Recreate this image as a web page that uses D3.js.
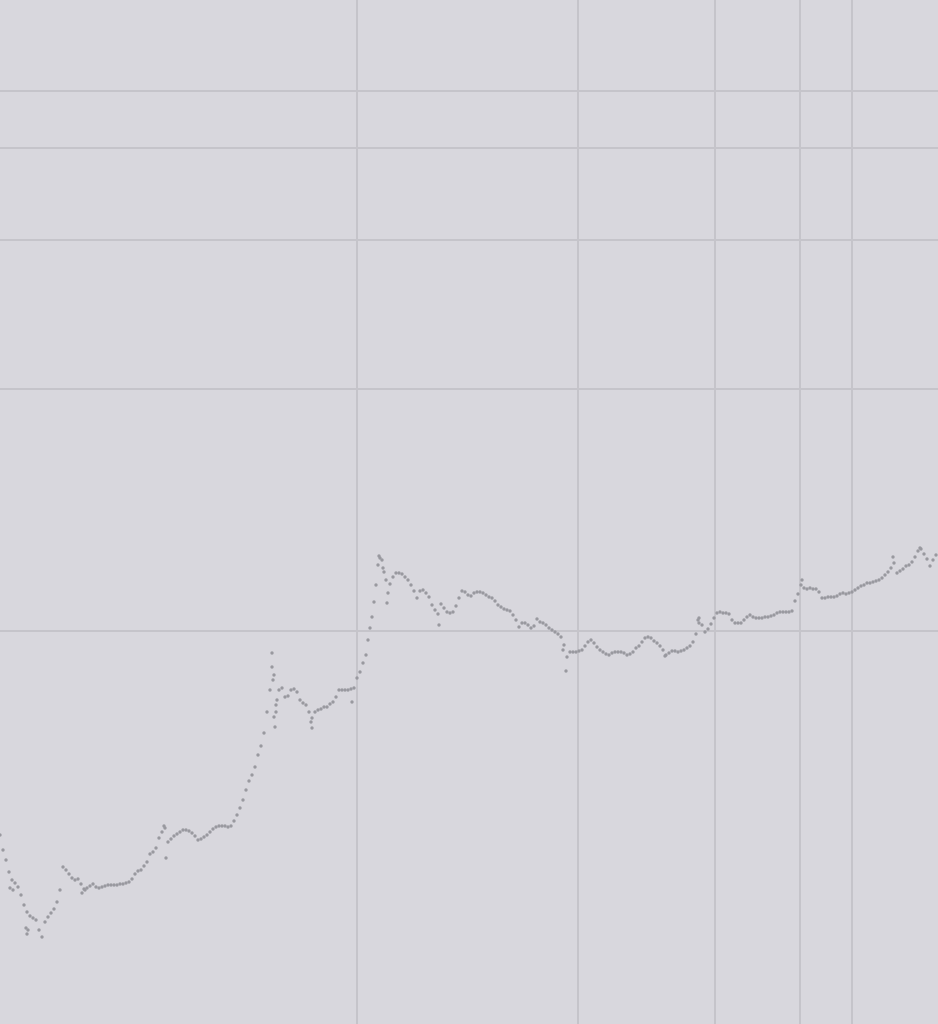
<!DOCTYPE html>
<html><head><meta charset="utf-8">
<script src="https://cdn.jsdelivr.net/npm/d3@7"></script>
<style>html,body{margin:0;padding:0;background:#d8d7dd;overflow:hidden}</style>
</head><body>
<div id="chart"></div>
<script>
// Main series: [day, level]
const series = [
[0,189],[3,174],[6,164],[9,152],[12,144],[15,141],[18,137],[21,129],[24,119],[27,112],[30,108],[33,106],[36,104],[39,94],[42,87],[45,102],[48,107],[51,111],[54,115],[57,122],[60,134],[63,157],[66,154],[69,150],[72,146],[75,144],[78,145],[81,140],[84,135],[87,136],[90,138],[93,140],[96,137],[99,136],[102,137],[105,138],[108,139],[111,139],[114,139],[117,139],[120,140],[123,140],[126,141],[129,142],[132,145],[135,150],[138,153],[141,154],[144,158],[147,162],[150,170],[153,172],[156,176],[159,186],[162,192],[165,196],[168,182],[171,185],[174,188],[177,190],[180,192],[183,194],[186,194],[189,193],[192,191],[195,188],[198,184],[201,185],[204,187],[207,189],[210,192],[213,195],[216,197],[219,198],[222,198],[225,198],[228,197],[231,198],[234,203],[237,209],[240,216],[243,224],[246,234],[249,243],[252,249],[255,257],[258,269],[261,278],[264,291],[267,312],[270,334],[273,344],[276,319],[279,334],[282,336],[285,327],[288,328],[291,334],[294,335],[297,332],[300,324],[303,321],[306,319],[309,312],[312,306],[315,312],[318,314],[321,315],[324,317],[327,317],[330,320],[333,322],[336,327],[339,334],[342,334],[345,334],[348,334],[351,335],[354,336],[357,346],[360,352],[363,361],[366,369],[368,384],[370,396],[372,407],[374,422],[376,439],[378,459],[380,466],[382,464],[384,452],[386,444],[388,431],[390,440],[393,447],[396,451],[399,451],[402,450],[405,447],[408,444],[411,439],[414,433],[417,426],[420,433],[423,434],[426,431],[429,427],[432,419],[435,414],[438,410],[441,420],[444,416],[447,412],[450,411],[453,412],[456,418],[459,426],[462,433],[465,432],[468,429],[471,428],[474,431],[477,432],[480,432],[483,431],[486,429],[489,427],[492,426],[495,423],[498,419],[501,417],[504,415],[507,414],[510,413],[513,409],[516,404],[519,397],[522,401],[525,401],[528,399],[531,396],[534,398],[537,405],[540,402],[543,401],[546,399],[549,396],[552,394],[555,392],[558,390],[561,387],[564,379],[567,367],[570,372],[573,372],[576,372],[579,373],[582,374],[585,378],[588,382],[591,384],[594,381],[597,377],[600,374],[603,372],[606,370],[609,369],[612,371],[615,372],[618,372],[621,372],[624,371],[627,369],[630,370],[633,372],[636,376],[639,378],[642,382],[645,386],[648,387],[651,386],[654,383],[657,381],[660,378],[663,374],[666,369],[669,371],[672,373],[675,373],[678,372],[681,373],[684,374],[687,376],[690,378],[693,382],[696,390],[699,401],[702,399],[705,392],[708,395],[711,400],[714,406],[717,411],[720,412],[723,411],[726,411],[729,410],[732,404],[735,401],[738,401],[741,401],[744,404],[747,407],[750,409],[753,407],[756,406],[759,406],[762,406],[765,407],[768,407],[771,408],[774,409],[777,411],[780,412],[783,412],[786,412],[789,412],[792,413],[795,423],[798,430],[801,439],[804,436],[807,435],[810,436],[813,435],[816,435],[819,432],[822,426],[825,426],[828,427],[831,427],[834,427],[837,428],[840,430],[843,431],[846,430],[849,431],[852,432],[855,434],[858,436],[861,438],[864,439],[867,441],[870,441],[873,442],[876,443],[879,444],[882,446],[885,449],[888,452],[891,456],[894,461],[897,451],[900,453],[903,455],[906,458],[909,459],[912,462],[915,467],[918,473],[921,475],[924,470],[927,465],[930,458],[933,464],[936,469]
];
// Isolated points away from the main band: [day, level]
const outliers = [
[10,136],[13,134],[26,96],[27,90],[28,94],[82,131],[85,134],[166,166],[164,198],
[272,371],[272,357],[274,349],[274,307],[275,297],[276,312],[277,324],[312,296],[311,302],
[352,322],[379,468],[383,456],[387,421],[439,399],[566,353],[563,374],[699,406],[698,404],
[802,444],[893,467],[665,368],[920,476]
];
// Grid positions
const xGrid = [357, 578, 715, 800, 852];
const yGrid = [933, 876, 784, 635, 393];

const W = 938, H = 1024;
const x = d3.scaleLinear().domain([0, 938]).range([0, W]);
const y = d3.scaleLinear().domain([0, 1024]).range([H, 0]);

const svg = d3.select("#chart").append("svg")
  .attr("width", W).attr("height", H).style("display","block");
svg.append("rect").attr("width", W).attr("height", H).attr("fill", "#d8d7dd");

const grid = svg.append("g").attr("stroke", "#c5c4ca").attr("stroke-width", 2);
grid.selectAll("line.v").data(xGrid).join("line").attr("class","v")
  .attr("x1", d => x(d)).attr("x2", d => x(d)).attr("y1", 0).attr("y2", H);
grid.selectAll("line.h").data(yGrid).join("line").attr("class","h")
  .attr("y1", d => y(d)).attr("y2", d => y(d)).attr("x1", 0).attr("x2", W);

const pts = series.concat(outliers);
svg.append("g").attr("fill", "#99999f")
  .selectAll("circle").data(pts).join("circle")
  .attr("cx", d => x(d[0])).attr("cy", d => y(d[1])).attr("r", 1.7);
</script>
</body></html>
